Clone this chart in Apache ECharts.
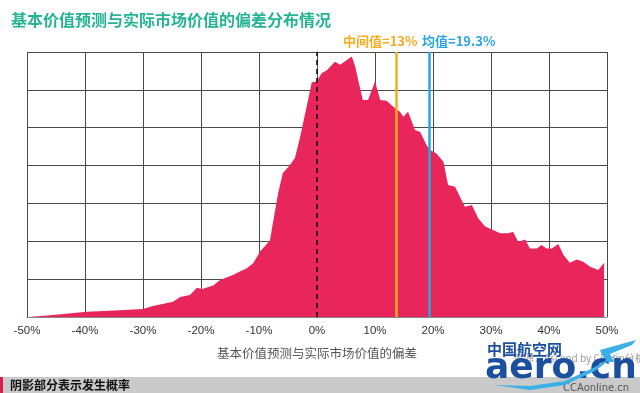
<!DOCTYPE html>
<html>
<head>
<meta charset="utf-8">
<script src="https://cdn.jsdelivr.net/npm/echarts@6/dist/echarts.min.js"></script>
<style>
html,body{margin:0;padding:0;background:#fff;}
#chart{width:640px;height:393px;}
</style>
</head>
<body>
<div id="chart"></div>
<script>
// ---- data ----
var deviationPct = [-49.8,-45.5,-39.7,-34.0,-30.0,-28.3,-24.8,-23.6,-21.9,-20.7,-19.8,-17.9,-16.7,-14.5,-13.3,-12.1,-11.0,-9.8,-8.1,-7.6,-6.7,-5.9,-4.7,-3.8,-2.9,-1.8,-0.9,-0.05,0.8,1.7,3.1,4.0,6.0,6.6,7.1,7.9,8.8,10.0,10.9,12.0,13.2,14.3,14.9,15.7,16.9,17.8,18.9,19.5,20.6,21.8,22.6,23.8,25.5,26.7,27.8,29.0,31.6,33.0,33.8,34.7,35.9,36.7,37.9,38.7,39.6,40.5,41.6,42.5,43.6,44.8,45.9,47.1,48.5,48.8,49.5];
var probability = [0,0.05,0.14,0.18,0.21,0.29,0.40,0.53,0.58,0.77,0.74,0.83,0.98,1.11,1.20,1.29,1.42,1.73,2.03,2.48,3.27,3.80,4.01,4.20,4.76,5.55,6.20,6.22,6.44,6.52,6.74,6.66,6.88,6.61,6.26,5.73,5.73,6.22,5.73,5.71,5.55,5.42,5.29,5.42,4.94,4.89,4.54,4.41,4.32,4.10,3.49,3.44,2.91,2.96,2.61,2.39,2.21,2.21,2.25,1.99,2.05,1.81,1.81,1.90,1.81,1.81,1.93,1.64,1.43,1.52,1.46,1.33,1.24,1.20,1.43];
var xTickValues = [-50,-40,-30,-20,-10,0,10,20,30,40,50];
var medianValue = 13.7;
var meanValue = 19.3;
var medianLabel = '中间值=13%';
var meanLabel = '均值=19.3%';
var titleText = '基本价值预测与实际市场价值的偏差分布情况';
var xAxisName = '基本价值预测与实际市场价值的偏差';
var footnote = '阴影部分表示发生概率';
var sourceText = '来源：Ascend by Cirium分析';

var seriesData = deviationPct.map(function (x, i) { return [x, probability[i]]; });

var chart = echarts.init(document.getElementById('chart'), null, {renderer: 'canvas'});
var cjk = '"Noto Sans CJK SC", "Noto Sans", sans-serif';
var gridColor = '#4a4a4a';

var option = {
  backgroundColor: '#ffffff',
  animation: false,
  title: {
    text: titleText,
    left: 6, top: 7,
    textStyle: {color: '#26b394', fontSize: 16, fontWeight: 'bold', fontFamily: cjk}
  },
  grid: {left: 27, right: 33, top: 52, bottom: 76},
  xAxis: {
    type: 'value', min: -50, max: 50, interval: 10,
    name: xAxisName, nameLocation: 'middle', nameGap: 30,
    nameTextStyle: {color: '#555', fontSize: 12.5, fontFamily: cjk},
    axisLine: {show: true, lineStyle: {color: '#888', width: 1}},
    axisTick: {show: false},
    axisLabel: {
      color: '#333', fontSize: 11.5, margin: 8,
      fontFamily: '"Liberation Sans Narrow", "Liberation Sans", sans-serif',
      formatter: function (v) { return xTickValues.indexOf(v) >= 0 ? v + '%' : ''; }
    },
    splitLine: {show: true, lineStyle: {color: gridColor, width: 1}}
  },
  yAxis: {
    type: 'value', min: 0, max: 7, interval: 1,
    axisLine: {show: true, lineStyle: {color: gridColor, width: 1}},
    axisTick: {show: false},
    axisLabel: {show: false},
    splitLine: {show: true, lineStyle: {color: gridColor, width: 1}}
  },
  series: [{
    type: 'line',
    data: seriesData,
    symbol: 'none',
    smooth: false,
    lineStyle: {width: 0, color: '#e9265b'},
    itemStyle: {color: '#e9265b'},
    areaStyle: {color: '#e9265b', opacity: 1},
    markLine: {
      silent: true,
      symbol: ['none', 'none'],
      label: {show: false},
      data: [
        {xAxis: 0, lineStyle: {color: '#111', type: [5, 4], width: 1.6}},
        {xAxis: medianValue, lineStyle: {color: '#f5ab22', type: 'solid', width: 2.5}},
        {xAxis: meanValue, lineStyle: {color: '#2aa5e0', type: 'solid', width: 2.5}}
      ]
    },
    z: 3
  }],
  graphic: [
    {type: 'text', left: 343, top: 35, style: {text: medianLabel, fill: '#f5ab22', font: 'bold 13px ' + cjk}},
    {type: 'text', left: 422, top: 35, style: {text: meanLabel, fill: '#2aa5e0', font: 'bold 13px ' + cjk}},
    {type: 'rect', shape: {x: 0, y: 377, width: 640, height: 16}, style: {fill: '#cacaca'}},
    {type: 'rect', shape: {x: 0, y: 377, width: 3, height: 16}, style: {fill: '#d8204f'}},
    {type: 'text', left: 10, top: 379, style: {text: footnote, fill: '#111', font: 'bold 12px ' + cjk}},
    {type: 'text', left: 514, top: 353, style: {text: sourceText, fill: '#999', font: '10px ' + cjk}},
    {type: 'text', left: 487, top: 342, z: 10, style: {text: '中国航空网', fill: '#1d4f9f', font: 'bold 15px ' + cjk}},
    {type: 'text', left: 485, top: 351, z: 10, style: {text: 'aero.cn', fill: '#1d4f9f', font: 'bold 36px "DejaVu Sans", sans-serif'}},
    {type: 'text', left: 563, top: 383, z: 10, style: {text: 'CCAonline.cn', fill: '#555', font: '10px "DejaVu Sans", sans-serif'}},
    {type: 'polygon', z: 11, shape: {points: [[495,385],[530,390],[565,385],[595,371],[620,352],[595,367],[565,381],[530,386]]}, style: {fill: '#3ab0e6'}},
    {type: 'polygon', z: 11, shape: {points: [[600,350],[636,340],[632,345],[610,354],[614,362],[608,362],[602,355]]}, style: {fill: '#3ab0e6'}}
  ]
};
chart.setOption(option);
</script>
</body>
</html>
